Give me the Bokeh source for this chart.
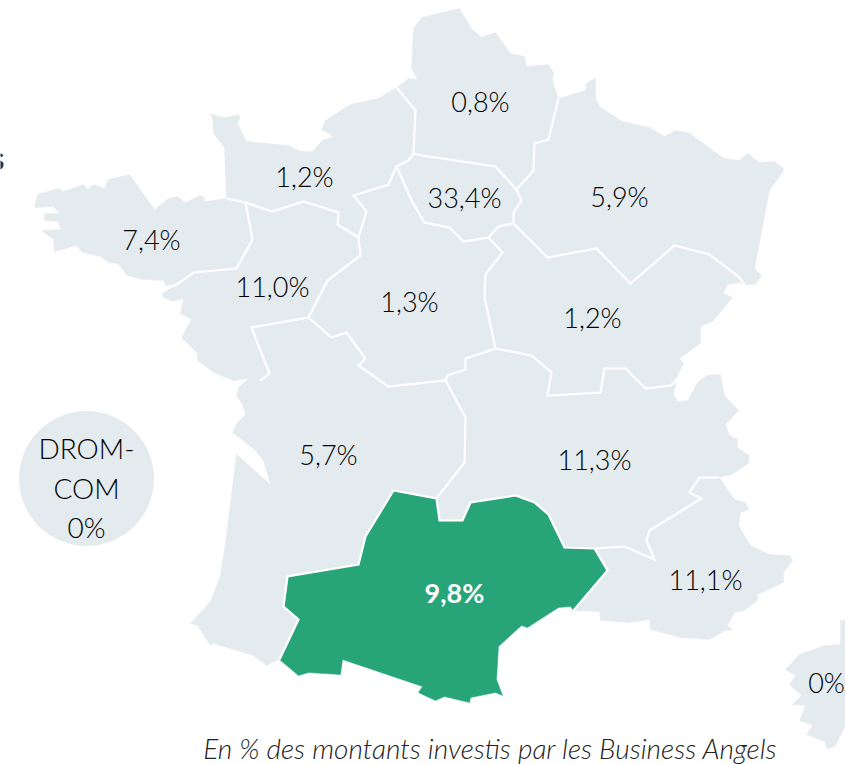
from bokeh.plotting import figure
from bokeh.models import Range1d
from bokeh.core.properties import value
from bokeh.embed import file_html
from bokeh.resources import INLINE

# Region outlines
hauts_de_france = [(396,87),(408,78),(417,79),(411,68),(413,28),(421,17),(459,8),(471,28),(481,37),(495,32),(510,53),(524,56),(526,66),(548,64),(553,72),(552,80),(558,98),(548,139),(534,143),(533,170),(516,189),(495,166),(422,155),(413,153),(415,110)]
normandie = [(396,87),(378,98),(350,104),(325,120),(321,129),(333,136),(322,140),(312,151),(300,151),(288,145),(246,141),(237,123),(240,116),(237,114),(227,117),(218,116),(209,113),(212,117),(213,133),(224,147),(226,198),(245,202),(272,211),(303,201),(338,212),(337,224),(358,237),(366,211),(353,195),(388,184),(396,166),(408,160),(413,153),(415,110)]
ile_de_france = [(413,153),(422,155),(495,166),(516,189),(521,200),(513,212),(513,223),(498,226),(488,237),(463,241),(449,227),(424,222),(412,202),(396,166),(408,160)]
grand_est = [(558,98),(585,90),(586,83),(595,77),(595,98),(600,107),(622,121),(649,127),(664,136),(675,130),(688,132),(715,152),(724,158),(739,160),(747,153),(759,162),(774,161),(784,169),(769,190),(754,268),(761,275),(755,284),(744,284),(738,276),(709,254),(674,245),(630,283),(596,248),(547,257),(513,223),(513,212),(521,200),(516,189),(533,170),(534,143),(548,139)]
bourgogne_fc = [(513,223),(547,257),(596,248),(630,283),(674,245),(709,254),(738,276),(744,284),(738,282),(727,284),(723,293),(732,297),(712,321),(700,326),(700,343),(679,358),(683,363),(676,377),(670,385),(645,388),(625,368),(604,368),(600,392),(547,395),(551,372),(531,355),(495,348),(484,297),(485,274),(502,252),(488,237),(498,226)]
centre_vdl = [(358,237),(366,211),(353,195),(388,184),(396,166),(412,202),(424,222),(449,227),(463,241),(488,237),(502,252),(485,274),(484,297),(495,348),(465,358),(465,369),(447,375),(445,380),(388,386),(358,365),(365,358),(346,332),(331,337),(308,317),(327,280),(360,255)]
pays_de_la_loire = [(245,202),(272,211),(303,201),(338,212),(337,224),(358,237),(360,255),(327,280),(308,317),(251,327),(269,373),(260,380),(248,378),(233,380),(213,372),(197,360),(197,353),(181,337),(191,319),(180,313),(183,298),(172,301),(163,297),(162,293),(175,285),(193,272),(236,268),(252,239)]
bretagne = [(226,198),(245,202),(252,239),(236,268),(193,272),(175,285),(166,286),(163,280),(142,279),(127,275),(117,263),(108,262),(100,256),(82,252),(76,245),(54,251),(53,239),(41,230),(60,229),(58,221),(44,220),(44,213),(59,213),(53,206),(34,207),(37,194),(58,188),(63,191),(83,184),(87,189),(93,184),(104,188),(108,179),(129,174),(154,209),(168,198),(177,196),(185,202),(200,195),(204,197),(204,201)]
nouvelle_aquitaine = [(251,327),(308,317),(331,337),(346,332),(365,358),(358,365),(388,386),(445,380),(465,417),(464,462),(436,498),(393,490),(365,536),(358,564),(287,576),(283,606),(298,619),(278,659),(266,665),(253,655),(213,643),(210,645),(197,625),(190,623),(210,601),(220,575),(225,542),(236,454),(270,484),(263,460),(254,449),(232,432),(237,422),(245,414),(242,404),(236,395),(238,387),(248,378),(260,380),(269,373)]
auvergne_ra = [(495,348),(531,355),(551,372),(547,395),(600,392),(604,368),(625,368),(645,388),(670,385),(676,380),(673,394),(677,401),(687,400),(697,382),(706,375),(720,374),(724,395),(738,410),(725,424),(729,435),(737,439),(737,447),(749,455),(748,463),(731,474),(719,477),(699,477),(689,492),(701,498),(649,530),(646,540),(654,559),(624,546),(594,548),(564,547),(548,514),(534,502),(515,495),(470,502),(462,520),(439,520),(436,498),(464,462),(465,417),(445,380),(447,375),(465,369),(465,358)]
paca = [(594,548),(624,546),(654,559),(646,540),(649,530),(701,498),(689,492),(699,477),(719,477),(734,499),(745,502),(748,509),(740,512),(738,525),(750,545),(769,554),(789,555),(792,560),(783,572),(783,582),(757,594),(757,600),(744,610),(734,612),(727,625),(732,629),(725,630),(709,639),(680,637),(650,629),(649,619),(629,622),(600,620),(599,611),(573,610),(607,570)]
corse = [(840,620),(860,620),(860,725),(845,725),(835,745),(827,749),(824,741),(806,734),(812,725),(799,720),(805,705),(792,704),(801,695),(789,684),(795,675),(785,669),(799,654),(824,645),(840,644)]
occitanie = [(436,498),(439,520),(462,520),(470,502),(515,495),(534,502),(548,514),(564,547),(594,548),(607,570),(573,610),(570,606),(558,607),(527,627),(521,625),(498,646),(496,679),(502,695),(495,692),(470,697),(469,702),(444,696),(435,700),(422,694),(418,692),(422,686),(342,659),(340,674),(308,672),(298,675),(279,659),(298,619),(283,606),(287,576),(358,564),(365,536),(393,490)]

grey_regions = [hauts_de_france, normandie, ile_de_france, grand_est, bourgogne_fc, centre_vdl,
                pays_de_la_loire, bretagne, nouvelle_aquitaine, auvergne_ra, paca, corse]

# Inner borders between regions (the coast has no stroke)
border_normandie_centre = [(396,87),(415,110),(413,153),(408,160),(396,166),(388,184),(353,195),(366,211),(358,237)]
border_loire_south = [(226,198),(245,202),(272,211),(303,201),(338,212),(337,224),(358,237),(360,255),(327,280),(308,317),(331,337),(346,332),(365,358),(358,365),(388,386),(445,380),(465,417),(464,462),(436,498)]
border_bretagne = [(245,202),(252,239),(236,268),(193,272),(175,285),(166,286)]
border_vendee = [(308,317),(251,327),(269,373),(260,380)]
border_hauts_south = [(558,98),(548,139),(534,143),(533,170),(516,189),(495,166),(422,155),(413,153)]
border_idf_south = [(396,166),(412,202),(424,222),(449,227),(463,241),(488,237),(498,226),(513,223),(513,212),(521,200),(516,189)]
border_centre_east = [(488,237),(502,252),(485,274),(484,297),(495,348),(465,358),(465,369),(447,375),(445,380)]
border_grand_est = [(513,223),(547,257),(596,248),(630,283),(674,245),(709,254),(738,276),(744,284)]
border_bourgogne_south = [(495,348),(531,355),(551,372),(547,395),(600,392),(604,368),(625,368),(645,388),(670,385),(676,380)]
border_paca = [(594,548),(624,546),(654,559),(646,540),(649,530),(701,498),(689,492),(699,477),(719,477)]
border_occitanie = [(279,659),(298,619),(283,606),(287,576),(358,564),(365,536),(393,490),(436,498),(439,520),(462,520),(470,502),(515,495),(534,502),(548,514),(564,547),(594,548),(607,570),(573,610)]

borders = [border_normandie_centre, border_loire_south, border_bretagne, border_vendee,
           border_hauts_south, border_idf_south, border_centre_east, border_grand_est,
           border_bourgogne_south, border_paca, border_occitanie]

region_labels = ["0,8%", "1,2%", "33,4%", "5,9%", "7,4%", "11,0%", "1,3%", "1,2%", "5,7%", "11,3%", "11,1%", "0%"]
label_x = [480, 304, 464, 619, 151, 272, 409, 592, 328, 594, 705, 826]
label_y = [101, 176, 197, 196, 239, 286, 301, 317, 454, 459, 579, 682]

highlight_label = ["9,8%"]
highlight_x = [454]
highlight_y = [592]

drom_lines = ["DROM-", "COM", "0%"]
drom_line_y = [447, 487, 526]
drom_x = 86
drom_y = 478
drom_r = 67.5

caption = "En % des montants investis par les Business Angels"

GREY = "#e4ebef"
GREEN = "#27a579"
INK = "#000000"
FONT = "Lato Light"

p = figure(width=845, height=764, x_range=Range1d(0, 845), y_range=Range1d(764, 0),
           toolbar_location=None, output_backend="svg", min_border=0,
           background_fill_color="white", border_fill_color="white",
           outline_line_color=None)
p.axis.visible = False
p.grid.visible = False

def unzip(regions):
    return [[pt[0] for pt in r] for r in regions], [[pt[1] for pt in r] for r in regions]

xs, ys = unzip(grey_regions)
p.patches(xs, ys, fill_color=GREY, line_color=GREY, line_width=0.5)
xs, ys = unzip([occitanie])
p.patches(xs, ys, fill_color=GREEN, line_color=GREEN, line_width=0.5)
xs, ys = unzip(borders)
p.multi_line(xs, ys, line_color="white", line_width=2.2, line_join="miter")

p.circle([drom_x], [drom_y], radius=drom_r, fill_color=GREY, line_color=None)

common = dict(text_font=value(FONT), text_align="center", text_baseline="middle")
p.text(label_x, label_y, text=region_labels, text_font_size="27px", text_color=INK, **common)
p.text(highlight_x, highlight_y, text=highlight_label, text_font_size="27px",
       text_font_style="bold", text_color="white", text_font=value("Lato"),
       text_align="center", text_baseline="middle")
p.text([drom_x] * len(drom_lines), drom_line_y, text=drom_lines, text_font_size="28px", text_color=INK, **common)
p.text([490], [747], text=[caption], text_font_size="28px", text_font_style="italic",
       text_color="#222222", **common)
p.text([4], [156], text=["s"], text_font_size="33px", text_font_style="bold", text_color="#333333",
       text_font=value("Lato"), text_align="right", text_baseline="middle")

open("out.html", "w").write(file_html(p, INLINE))
